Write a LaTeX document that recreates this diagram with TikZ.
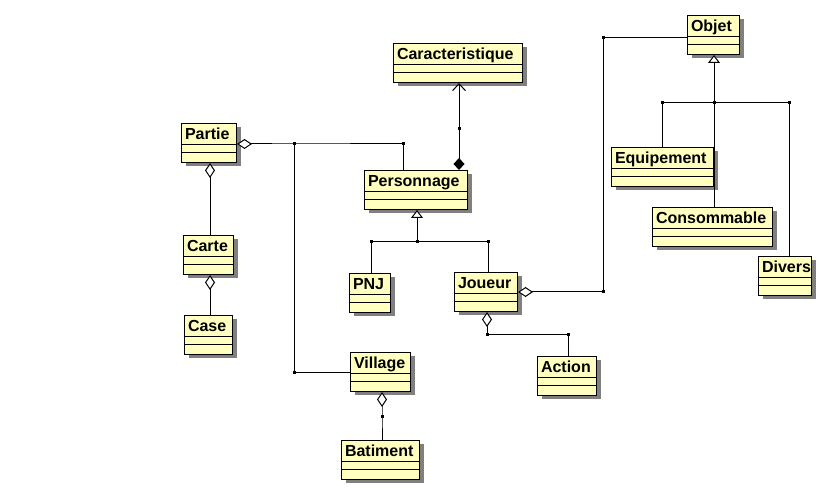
\documentclass[tikz,border=0pt]{standalone}
\usepackage{fontspec}
\setmainfont{Liberation Sans}
\usetikzlibrary{arrows.meta,shadows}
\definecolor{umlfill}{RGB}{255,255,192}
\definecolor{umlshadow}{RGB}{128,128,128}
\tikzset{
 cls/.style={draw=black, line width=1pt, fill=umlfill, anchor=north west,
   inner xsep=3.5pt, inner ysep=0pt, text height=16pt, text depth=23pt, align=left,
   font=\fontsize{16}{18}\selectfont\bfseries,
   drop shadow={shadow xshift=4pt, shadow yshift=-4pt, fill=umlshadow, opacity=1}},
 dot/.style={fill=black, inner sep=0pt, minimum size=3pt, shape=rectangle},
 conn/.style={line width=1pt},
 agg/.style={conn, {Diamond[open, length=15pt, width=10pt, fill=white]}-},
 comp/.style={conn, {Diamond[length=12pt, width=11pt]}-{Straight Barb[length=7pt, width=13pt]}},
 gen/.style={conn, {Triangle[open, length=8pt, width=12pt, fill=white]}-},
}
\newcommand\umlclass[6]{%
 \node[cls, text width=#5pt] (#1) at (#2,#3) {#6};
 \draw[conn] ([yshift=-22pt]#1.north west) -- ([yshift=-22pt]#1.north east);
 \draw[conn] ([yshift=-30pt]#1.north west) -- ([yshift=-30pt]#1.north east);
}
\begin{document}
\begin{tikzpicture}[x=1pt,y=-1pt]
\fill[white] (0,0) rectangle (831,494);
\useasboundingbox (0,0) rectangle (831,494);
\umlclass{partie}{181}{123}{55}{48}{Partie}
\umlclass{carte}{183}{235}{50}{43}{Carte}
\umlclass{case}{184}{315}{48}{41}{Case}
\umlclass{carac}{393}{43}{129}{122}{Caracteristique}
\umlclass{perso}{364}{170}{103}{96}{Personnage}
\umlclass{pnj}{349}{273}{41}{34}{PNJ}
\umlclass{joueur}{454}{272}{63}{56}{Joueur}
\umlclass{village}{350}{352}{60}{53}{Village}
\umlclass{batiment}{341}{440}{78}{71}{Batiment}
\umlclass{action}{537}{356}{59}{52}{Action}
\umlclass{objet}{687}{15}{52}{45}{Objet}
\umlclass{equip}{611}{147}{102}{95}{Equipement}
\umlclass{conso}{652}{207}{120}{113}{Consommable}
\umlclass{divers}{758}{256}{53}{46}{Divers}
% coordinates
\coordinate (xa) at (210,0);
\coordinate (pa1) at (294,144);
\coordinate (pa2) at (403,144);
\coordinate (pa3) at (294,373);
\coordinate (cc) at (459,129);
\coordinate (g0) at (417,242);
\coordinate (g1) at (371,242);
\coordinate (g2) at (488,242);
\coordinate (jo1) at (603,292);
\coordinate (jo2) at (603,38);
\coordinate (ja1) at (487,335);
\coordinate (ja2) at (568,335);
\coordinate (vb) at (382,417);
\coordinate (o0) at (714,103);
\coordinate (o1) at (662,103);
\coordinate (o2) at (789,103);
% connectors
\draw[agg] (partie.east |- pa1) -- (pa1) -- (pa2) -- (pa2 |- perso.north);
\draw[conn] (pa1) -- (pa3) -- (pa3 -| village.west);
\draw[agg] (partie.south -| xa) -- (carte.north -| xa);
\draw[agg] (carte.south -| xa) -- (case.north -| xa);
\draw[comp] (perso.north -| cc) -- (carac.south -| cc);
\draw[gen] (perso.south -| g0) -- (g0);
\draw[conn] (g1) -- (g2);
\draw[conn] (g1) -- (pnj.north -| g1);
\draw[conn] (g2) -- (joueur.north -| g2);
\draw[agg] (joueur.east |- jo1) -- (jo1) -- (jo2) -- (objet.west |- jo2);
\draw[agg] (joueur.south -| ja1) -- (ja1) -- (ja2) -- (action.north -| ja2);
\draw[agg] (village.south -| vb) -- (vb) -- (batiment.north -| vb);
\draw[gen] (objet.south -| o0) -- (o0);
\draw[conn] (o1) -- (o2);
\draw[conn] (o1) -- (equip.north -| o1);
\draw[conn] (o0) -- (conso.north -| o0);
\draw[conn] (o2) -- (divers.north -| o2);
% dots
\foreach \c in {pa1,pa2,pa3,cc,g0,g1,g2,jo1,jo2,ja1,ja2,vb,o0,o1,o2}
  \node[dot] (d\c) at (\c) {};
\end{tikzpicture}
\end{document}
